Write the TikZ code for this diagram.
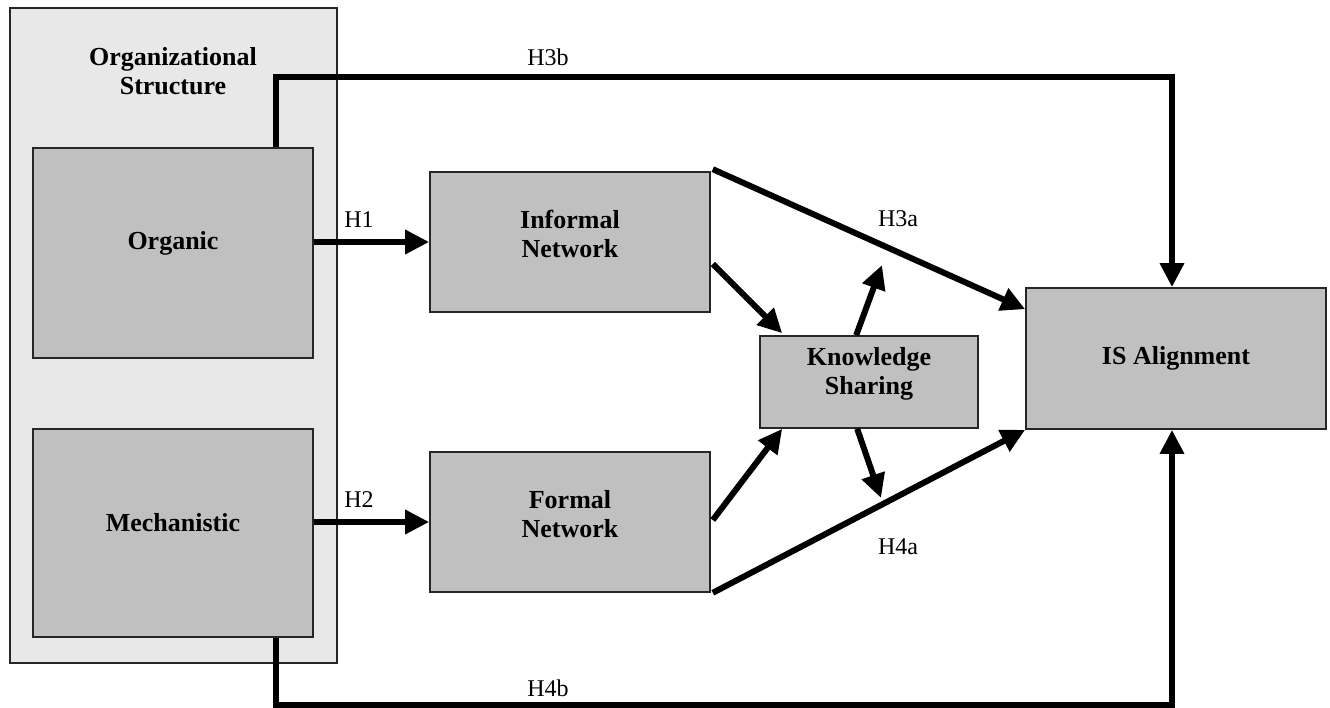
\documentclass[tikz,border=0pt]{standalone}
\usepackage{fontspec}
\setmainfont{Liberation Serif}
\usetikzlibrary{arrows.meta,calc}
\definecolor{boxgray}{HTML}{C0C0C0}
\definecolor{outergray}{HTML}{E8E8E8}
\begin{document}
\begin{tikzpicture}[x=1pt,y=-1pt,
  box/.style={draw=black!85, line width=1.6pt, fill=boxgray, inner sep=0pt},
  btext/.style={align=center, inner sep=0pt, font=\fontsize{26}{29}\selectfont\bfseries},
  conn/.style={line width=6pt, -{Triangle[length=24pt,width=23pt]}},
  elbow/.style={line width=6pt, line join=miter, -{Triangle[length=24pt,width=23pt]}},
  lab/.style={font=\fontsize{24}{26}\selectfont, inner sep=0pt}]
\useasboundingbox (0,0) rectangle (1330,708);
\fill[white] (0,0) rectangle (1330,708);
% group box
\node[draw=black!85, line width=1.6pt, fill=outergray, minimum width=327pt, minimum height=655pt, inner sep=0pt] (org) at (173.5,335.5) {};
\node[btext] (orgt) at (173,71) {Organizational\\Structure};
% boxes
\node[box, minimum width=280pt, minimum height=210pt] (organic) at (173,253) {};
\node[box, minimum width=280pt, minimum height=208pt] (mech) at (173,533) {};
\node[box, minimum width=280pt, minimum height=140pt] (inf) at (570,242) {};
\node[box, minimum width=280pt, minimum height=140pt] (form) at (570,522) {};
\node[box, minimum width=218pt, minimum height=92pt] (ks) at (869,382) {};
\node[box, minimum width=300pt, minimum height=141pt] (is) at (1176,358.5) {};
% box texts
\node[btext] (organict) at ($(organic.center)+(0,-10)$) {Organic};
\node[btext] (mecht) at ($(mech.center)+(0,-10)$) {Mechanistic};
\node[btext] (inft) at ($(inf.center)+(0,-8)$) {Informal\\Network};
\node[btext] (formt) at ($(form.center)+(0,-8)$) {Formal\\Network};
\node[btext] (kst) at ($(ks.center)+(0,-8)$) {Knowledge\\Sharing};
\node[btext] (ist) at (is.center) {IS Alignment};
% helper coordinates
\coordinate (b1) at (276,77);
\coordinate (b2) at (1172,77);
\coordinate (c1) at (276,705);
\coordinate (c2) at (1172,705);
\coordinate (ksup) at (882,265);
\coordinate (ksdn) at (881,498);
% H1, H2
\draw[conn] (organic.east |- inf.west) -- (inf.west);
\draw[conn] (mech.east |- form.west) -- (form.west);
% H3b
\draw[elbow] (organic.north -| b1) -- (b1) -- (b2) -- (is.north -| b2);
% H4b
\draw[elbow] (mech.south -| c1) -- (c1) -- (c2) -- (is.south -| c2);
% H3a, H4a
\draw[conn] ($(inf.north east)+(2,-2)$) -- ($(is.north west)+(0,22)$);
\draw[conn] ($(form.south east)+(2,0)$) -- (is.south west);
% to knowledge sharing
\draw[conn] ($(inf.east)+(2,22)$) -- ($(ks.north west)+(23,-2)$);
\draw[conn] ($(form.east)+(2,-2)$) -- ($(ks.south west)+(23,0)$);
% from knowledge sharing
\draw[conn] ($(ks.north west)+(97,0)$) -- (ksup);
\draw[conn] ($(ks.south west)+(98,0)$) -- (ksdn);
% labels
\node[lab] (h1) at (359,220) {H1};
\node[lab] (h2) at (359,500) {H2};
\node[lab] (h3a) at (898,219) {H3a};
\node[lab] (h4a) at (898,547) {H4a};
\node[lab] (h3b) at (548,57) {H3b};
\node[lab] (h4b) at (548,688) {H4b};
\end{tikzpicture}
\end{document}
